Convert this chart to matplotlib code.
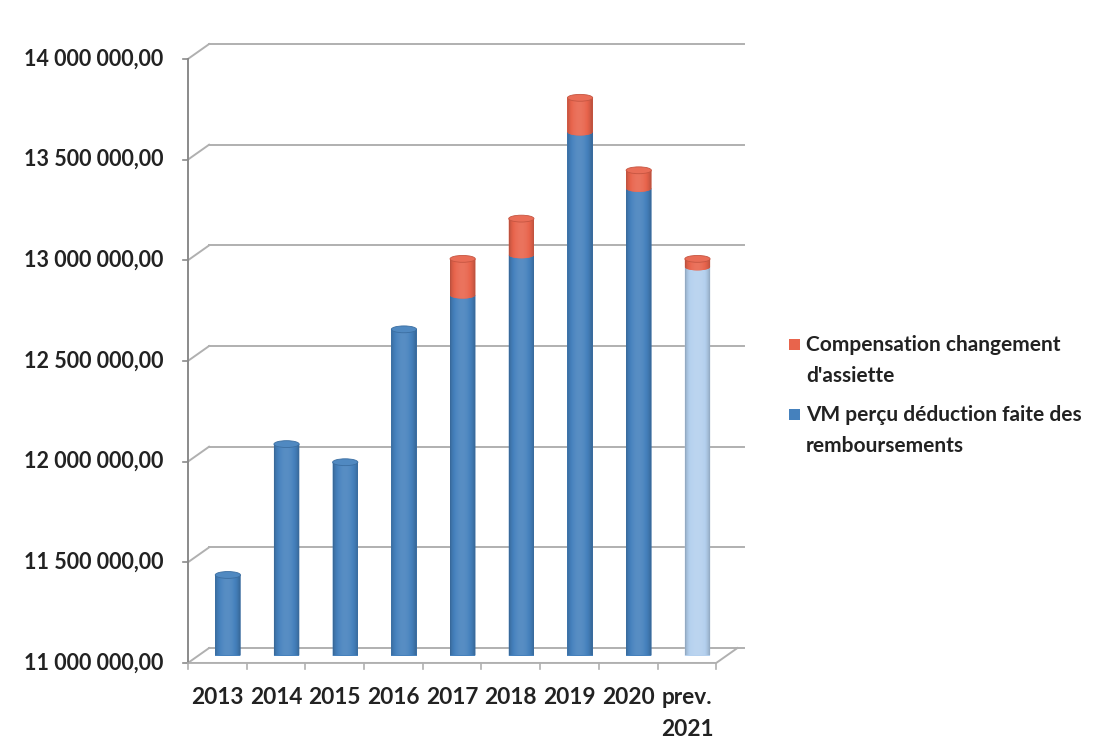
import numpy as np
import matplotlib
matplotlib.use("Agg")
import matplotlib.pyplot as plt
from matplotlib.patches import Ellipse, Rectangle, PathPatch
from matplotlib.path import Path
from matplotlib.colors import to_rgb

# Versement mobilité par année (euros)
years = ["2013", "2014", "2015", "2016", "2017", "2018", "2019", "2020", "prev.\n2021"]
vm_percu = [11_400_000, 12_050_000, 11_960_000, 12_620_000, 12_790_000,
            12_990_000, 13_600_000, 13_320_000, 12_930_000]
compensation = [0, 0, 0, 0, 180_000, 180_000, 170_000, 90_000, 40_000]
y_ticks = [11_000_000, 11_500_000, 12_000_000, 12_500_000,
           13_000_000, 13_500_000, 14_000_000]
legend_labels = ["Compensation changement\nd'assiette",
                 "VM perçu déduction faite des\nremboursements"]

BLUE = "#4581bd"
BLUE_PREV = "#b4d0ee"
RED = "#e8644c"
GRID = "#b0b0b0"
TEXT = "#222222"

plt.rcParams['font.family'] = ['Lato', 'DejaVu Sans']

fig = plt.figure(figsize=(11.03, 7.40), dpi=100)
ax = fig.add_axes([198.5 / 1103, 84.5 / 740, 528.3 / 1103, 604 / 740])
ax.axis('off')

YMIN, YMAX = y_ticks[0], y_ticks[-1]
DX, DY = 0.18, 37_000      # half depth of the 3d box, in data units
W = 0.43                   # cylinder width
CAP = 34_000               # height of the elliptic caps


def tone(color, f):
    c = np.array(to_rgb(color))
    f = np.asarray(f)[..., None]
    return np.where(f <= 1, c * f, c + (1 - c) * (f - 1))


def gradient(color, n=80):
    t = np.linspace(0, 1, n)
    f = 0.74 + 0.36 * np.sin(np.pi * t) ** 0.6 + 0.06 * (0.5 - t)
    return np.clip(tone(color, f), 0, 1)[None, :, :]


def cylinder_path(x, y0, y1):
    th = np.linspace(np.pi, 2 * np.pi, 30)
    bottom = np.column_stack([x + W / 2 * np.cos(th), y0 + CAP / 2 * np.sin(th)])
    verts = np.vstack([[x - W / 2, y1], bottom, [x + W / 2, y1], [x - W / 2, y1]])
    codes = [Path.MOVETO] + [Path.LINETO] * (len(verts) - 2) + [Path.CLOSEPOLY]
    return Path(verts, codes)


# back wall gridlines and left wall edges
xl, xr = -0.5, 8.5
for v in y_ticks:
    ax.plot([xl + DX, xr + DX + 0.12], [v + DY, v + DY], color=GRID, lw=1.4, zorder=1,
            clip_on=False)
    ax.plot([xl - DX, xl + DX], [v - DY, v + DY], color=GRID, lw=1.4, zorder=1,
            clip_on=False)
    ax.plot([xl - DX - 0.09, xl - DX], [v - DY, v - DY], color="#8a8a8a", lw=1.2,
            clip_on=False)
    ax.text(xl - DX - 0.42, v - DY, f"{v:,.2f}".replace(",", " ").replace(".", ","),
            ha='right', va='center', fontsize=15.5, fontweight='bold', color=TEXT)

# front vertical axis
ax.plot([xl - DX, xl - DX], [YMIN - DY, YMAX - DY], color="#8a8a8a", lw=1.4, clip_on=False)

# floor edges and category ticks
ax.plot([xl - DX, xr - DX, xr + DX], [YMIN - DY, YMIN - DY, YMIN + DY], color=GRID,
        lw=1.4, clip_on=False, zorder=1)
for b in np.arange(xl, xr + 1):
    ax.plot([b - DX, b - DX], [YMIN - DY, YMIN - DY - 28_000], color=GRID, lw=1.2,
            clip_on=False)

x = np.arange(len(years))
blue_colors = [BLUE] * (len(years) - 1) + [BLUE_PREV]
base_bars = ax.bar(x, np.array(vm_percu) - YMIN, W, bottom=YMIN, color=blue_colors,
                   zorder=2)
comp_bars = ax.bar(x, compensation, W, bottom=vm_percu, color=RED, zorder=3)

for i in x:
    segs = [(YMIN, vm_percu[i], blue_colors[i], 2)]
    if compensation[i] > 0:
        segs.append((vm_percu[i], vm_percu[i] + compensation[i], RED, 3))
    for y0, y1, col, z in segs:
        body = PathPatch(cylinder_path(i, y0, y1), facecolor=col, edgecolor='none',
                         zorder=z + 0.1)
        ax.add_patch(body)
        im = ax.imshow(gradient(col), extent=[i - W / 2, i + W / 2, y0 - CAP, y1],
                       aspect='auto', interpolation='bilinear', zorder=z + 0.2)
        im.set_clip_path(body)
    top = segs[-1][1]
    top_col = segs[-1][2]
    ax.add_patch(Ellipse((i, top), W, CAP, facecolor=tone(top_col, 1.06),
                         edgecolor=tone(top_col, 0.85), lw=0.6, zorder=5))

# category labels, in front of the floor
for i, lab in enumerate(years):
    ax.annotate(lab, xy=(i - DX, YMIN - DY), xytext=(0, -17), textcoords='offset points',
                ha='center', va='top', fontsize=16.3, fontweight='bold', color=TEXT,
                linespacing=1.7, multialignment='center', annotation_clip=False)

ax.set_xlim(xl, xr)
ax.set_ylim(YMIN, YMAX)

# legend, marker aligned with the first text line
leg_colors = [RED, BLUE]
leg_y = [345, 415]
for col, lab, yy in zip(leg_colors, legend_labels, leg_y):
    fig.patches.append(Rectangle((789 / 1103, 1 - (yy + 5) / 740), 11 / 1103, 11 / 740,
                                 transform=fig.transFigure, facecolor=col,
                                 edgecolor='none', figure=fig))
    fig.text(806 / 1103, 1 - (yy - 10) / 740, lab, ha='left', va='top', fontsize=15,
             fontweight='bold', color=TEXT, linespacing=1.68)

fig.savefig("out.png", dpi=100)
